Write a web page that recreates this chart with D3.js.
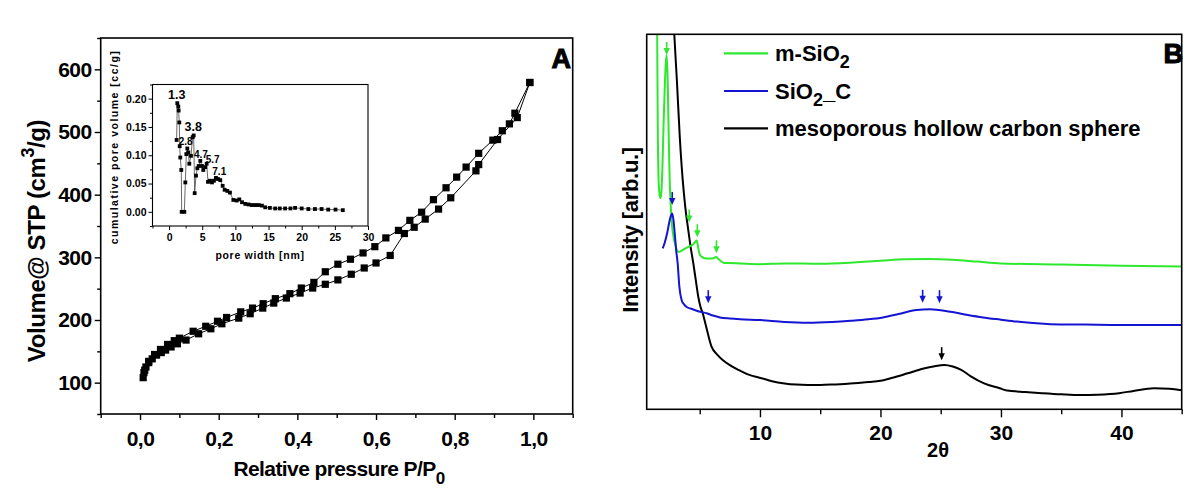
<!DOCTYPE html>
<html><head><meta charset="utf-8">
<script src="https://cdn.jsdelivr.net/npm/d3@7"></script>
<style>
body{margin:0;background:#fff}
text{font-family:"Liberation Sans",Arial,Helvetica,sans-serif;font-weight:bold;fill:#000}
</style></head><body>
<svg id="c" width="1200" height="499"></svg>
<script>
// ---------- Panel A: N2 isotherm ----------
const adsP=[0.008,0.010,0.015,0.022,0.031,0.042,0.054,0.065,0.079,0.095,0.117,0.149,0.180,0.208,0.251,0.280,0.312,0.340,0.372,0.407,0.439,0.471,0.503,0.537,0.570,0.600,0.636,0.672,0.697,0.725,0.759,0.790,0.854,0.861,0.909,0.959,0.991];
const adsV=[108,116,125,132,138,144,148,152,157,162,168,178,186,194,203,210,219,227,235,243,251,257,264,273,283,291,303,338,348,361,377,395,438,448,488,523,579];
const desP=[0.991,0.953,0.939,0.921,0.897,0.861,0.829,0.805,0.778,0.746,0.716,0.686,0.657,0.625,0.597,0.567,0.535,0.503,0.471,0.442,0.410,0.381,0.344,0.313,0.286,0.256,0.220,0.197,0.167,0.135,0.100,0.087,0.070,0.052,0.037,0.022,0.012];
const desV=[579,530,513,502,487,466,444,428,411,392,372,359,343,331,317,307,297,289,277,260,251,242,234,226,219,213,204,198,190,182,171,167,161,153,145,134,120];
const isoXTicks=[0,0.2,0.4,0.6,0.8,1.0];
const isoXMinor=[-0.1,0.1,0.3,0.5,0.7,0.9,1.1];
const isoYTicks=[100,200,300,400,500,600];
const isoYMinor=[50,150,250,350,450,550,650];

// ---------- Inset: pore size ----------
const psdX=[1.14,1.24,1.39,1.44,1.54,1.60,1.69,1.84,1.90,2.30,2.45,2.60,2.75,2.90,3.05,3.30,3.56,3.71,3.86,4.06,4.26,4.46,4.71,4.96,5.16,5.46,5.67,5.87,6.17,6.47,6.77,7.07,7.38,7.72,8.08,8.38,8.78,9.18,9.69,10.2,10.59,11.0,11.5,12.0,12.5,13.0,13.5,14.0,14.5,15.2,16.0,16.7,17.5,18.3,19.0,20.0,21.0,22.0,23.0,24.0,25.1,26.2];
const psdY=[0.127,0.192,0.186,0.179,0.158,0.116,0.096,0.074,0.0,0.0,0.052,0.102,0.112,0.105,0.085,0.099,0.132,0.135,0.033,0.064,0.077,0.081,0.090,0.081,0.074,0.079,0.085,0.053,0.055,0.052,0.055,0.060,0.058,0.056,0.046,0.039,0.037,0.034,0.021,0.020,0.022,0.017,0.014,0.013,0.012,0.012,0.012,0.011,0.008,0.007,0.006,0.006,0.006,0.006,0.007,0.006,0.005,0.005,0.005,0.004,0.004,0.003];
const psdLabelText=["1.3","3.8","2.8","4.7","5.7","7.1"];
const psdLabelX=[1.15,3.65,2.5,4.81,6.58,7.57];
const psdLabelY=[0.199,0.143,0.118,0.095,0.087,0.065];
const psdXTicks=[0,5,10,15,20,25,30];
const psdXMinor=[-2.5,2.5,7.5,12.5,17.5,22.5,27.5];
const psdYTicks=[0,0.05,0.10,0.15,0.20];
const psdYMinor=[-0.025,0.025,0.075,0.125,0.175,0.225];

// ---------- Panel B: XRD ----------
const seriesNames=["m-SiO2","SiO2_C","mesoporous hollow carbon sphere"];
const greenX=[1.40,1.47,1.52,1.58,1.66,1.74,1.82,1.90,2.00,2.10,2.18,2.26,2.34,2.42,2.50,2.57,2.70,2.85,3.00,3.22,3.45,3.64,3.85,4.05,4.25,4.45,4.62,4.75,4.87,5.00,5.20,5.58,5.90,6.15,6.35,6.55,6.96,7.50,8.34,10,12,15,18,20,22,24,26,28,30,35,40,45];
const greenY=[120,100,75,62,57.5,56.3,58,64,76,86,92,94.5,88,74,62,55.8,49,45.5,43.5,42,42.2,42.6,43,43.3,43.6,44,44.6,45,43.2,41.3,40.6,40.2,40.2,40.3,40.6,40.1,39.1,39,38.9,38.7,38.9,38.8,39.2,39.6,40,40.1,39.9,39.4,38.9,38.6,38.3,38.1];
const blueX=[1.93,2.10,2.30,2.45,2.60,2.72,2.82,2.95,3.06,3.17,3.31,3.50,3.70,3.92,4.30,4.75,5.20,5.58,6.10,6.68,7.50,8.34,10,12,14,16,17.5,19,20.2,21.5,23,24.1,25.8,27,28.5,30,31.3,34.1,37,40,45];
const blueY=[42.9,44.5,47,49.5,51.5,52.2,50.5,46,42,38.9,32.7,29.1,28,27.3,26.8,26.3,25.9,25.6,25,24.5,24.2,24,23.8,23.3,23.1,23.3,23.6,24,24.5,25.4,26.5,26.7,26,25.3,24.5,23.9,23.4,22.7,22.6,22.5,22.5];
const blackX=[2.75,2.89,3.10,3.36,3.59,3.80,4.05,4.25,4.47,4.68,4.88,5.05,5.25,5.50,5.98,6.45,6.93,7.50,8.22,9,10.13,11,12.04,13,13.96,15,16,17.5,19,20,21,22.26,23.5,24.5,25.3,26,26.7,27.5,28.6,29.9,30.5,32,33.4,35,36.6,38,39.8,41,42.7,44,45];
const blackY=[110,100,88,71.8,61.1,54,47.8,43.2,38.9,34.3,30,27.5,25.6,22.5,16.7,14.6,13.1,11.8,10.5,9.3,8.3,7.5,6.9,6.6,6.5,6.5,6.6,6.9,7.3,7.6,8.4,9.6,10.8,11.5,11.8,11.4,10.5,8.8,6.9,5.6,5,4.6,4.3,4.0,3.8,3.9,4.3,4.9,5.6,5.5,5.1];
const arrowX=[2.26,4.13,4.80,6.39,2.72,5.71,23.5,24.9,25.08];
const arrowY=[94.5,49.8,45.9,41.6,54.5,28.3,28.4,28.3,13.1];
const arrowSeries=[0,0,0,0,1,1,1,1,2];
const xrdXTicks=[10,20,30,40];
const xrdXMinor=[5,15,25,35,45];

const colors=["#2ee82e","#1414d2","#000000"];

const svg=d3.select("#c");

// ===== Panel A =====
const xA=d3.scaleLinear([-0.1,1.1],[100.7,572.7]);
const yA=d3.scaleLinear([50,650],[414,38]);
const gA=svg.append("g");
gA.append("rect").attr("x",xA(-0.1)).attr("y",yA(650)).attr("width",xA(1.1)-xA(-0.1)).attr("height",yA(50)-yA(650))
  .attr("fill","none").attr("stroke","#000").attr("stroke-width",1.6);

function styleAxis(g,fs){
  g.select(".domain").remove();
  g.selectAll("line").attr("stroke","#000").attr("stroke-width",1.4);
  g.selectAll("text").style("font-size",fs+"px").attr("fill","#000");
}
const axAB=gA.append("g").attr("transform",`translate(0,${yA(50)})`)
  .call(d3.axisBottom(xA).tickValues(isoXTicks).tickSize(6).tickPadding(11).tickFormat(d=>d3.format(".1f")(d).replace(".",",")));
styleAxis(axAB,21);
axAB.selectAll("text").style("letter-spacing","-0.5px");
const axABm=gA.append("g").attr("transform",`translate(0,${yA(50)})`)
  .call(d3.axisBottom(xA).tickValues(isoXMinor).tickSize(4).tickFormat(""));
styleAxis(axABm,10);
const axAL=gA.append("g").attr("transform",`translate(${xA(-0.1)},0)`)
  .call(d3.axisLeft(yA).tickValues(isoYTicks).tickSize(6).tickPadding(3).tickFormat(d3.format("d")));
styleAxis(axAL,21);
axAL.selectAll("text").style("letter-spacing","-0.5px");
const axALm=gA.append("g").attr("transform",`translate(${xA(-0.1)},0)`)
  .call(d3.axisLeft(yA).tickValues(isoYMinor).tickSize(3.5).tickFormat(""));
styleAxis(axALm,10);

const lineA=d3.line().x(d=>xA(d[0])).y(d=>yA(d[1]));
const ads=adsP.map((p,i)=>[p,adsV[i]]);
const des=desP.map((p,i)=>[p,desV[i]]);
[ads,des].forEach(data=>{
  gA.append("path").datum(data).attr("d",lineA).attr("fill","none").attr("stroke","#000").attr("stroke-width",1);
  gA.selectAll(null).data(data).enter().append("rect")
    .attr("x",d=>xA(d[0])-3.6).attr("y",d=>yA(d[1])-3.6).attr("width",7.2).attr("height",7.2).attr("fill","#000");
});

// axis titles A
const tA=gA.append("text").attr("x",339).attr("y",476).attr("text-anchor","middle").style("font-size","21px").style("letter-spacing","-0.6px");
tA.append("tspan").text("Relative pressure P/P");
tA.append("tspan").attr("dy",8).style("font-size","17px").text("0");
const yTA=gA.append("text").attr("transform","translate(45,241) rotate(-90)").attr("text-anchor","middle").style("font-size","24px").style("letter-spacing","-0.4px");
yTA.append("tspan").text("Volume@ STP (cm");
yTA.append("tspan").attr("dy",-11).style("font-size","18px").text("3");
yTA.append("tspan").attr("dy",11).text("/g)");
gA.append("text").attr("x",571).attr("y",68).attr("text-anchor","end").style("font-size","27px")
  .attr("stroke","#000").attr("stroke-width",1).text("A");

// ===== Inset =====
const xI=d3.scaleLinear([-2.5,30],[152.5,368]);
const yI=d3.scaleLinear([-0.025,0.225],[226,84.5]);
const gI=svg.append("g");
gI.append("rect").attr("x",xI(-2.5)).attr("y",yI(0.225)).attr("width",xI(30)-xI(-2.5)).attr("height",yI(-0.025)-yI(0.225))
  .attr("fill","#fff").attr("stroke","#000").attr("stroke-width",1.1);
const axIB=gI.append("g").attr("transform",`translate(0,${yI(-0.025)})`)
  .call(d3.axisBottom(xI).tickValues(psdXTicks).tickSize(4).tickPadding(4).tickFormat(d3.format("d")));
styleAxis(axIB,10.5); axIB.selectAll("line").attr("stroke-width",1);
const axIBm=gI.append("g").attr("transform",`translate(0,${yI(-0.025)})`)
  .call(d3.axisBottom(xI).tickValues(psdXMinor).tickSize(2.5).tickFormat(""));
styleAxis(axIBm,8); axIBm.selectAll("line").attr("stroke-width",1);
const axIL=gI.append("g").attr("transform",`translate(${xI(-2.5)},0)`)
  .call(d3.axisLeft(yI).tickValues(psdYTicks).tickSize(4).tickPadding(2).tickFormat(d3.format(".2f")));
styleAxis(axIL,10.5); axIL.selectAll("line").attr("stroke-width",1);
const axILm=gI.append("g").attr("transform",`translate(${xI(-2.5)},0)`)
  .call(d3.axisLeft(yI).tickValues(psdYMinor).tickSize(2.5).tickFormat(""));
styleAxis(axILm,8); axILm.selectAll("line").attr("stroke-width",1);

const psd=psdX.map((x,i)=>[x,psdY[i]]);
gI.append("path").datum(psd).attr("d",d3.line().x(d=>xI(d[0])).y(d=>yI(d[1])))
  .attr("fill","none").attr("stroke","#444").attr("stroke-width",0.8);
gI.selectAll(null).data(psd).enter().append("rect")
  .attr("x",d=>xI(d[0])-1.9).attr("y",d=>yI(d[1])-1.9).attr("width",3.8).attr("height",3.8).attr("fill","#000");
gI.selectAll(null).data(psdLabelText).enter().append("text")
  .attr("x",(d,i)=>xI(psdLabelX[i])).attr("y",(d,i)=>yI(psdLabelY[i])).attr("text-anchor","middle")
  .style("font-size",(d,i)=>i<2?"12.5px":"10px").text(d=>d);
gI.append("text").attr("transform","translate(118,147) rotate(-90)").attr("text-anchor","middle")
  .style("font-size","10.5px").style("letter-spacing","1.5px").text("cumulative pore volume [cc/g]");
gI.append("text").attr("x",260).attr("y",259).attr("text-anchor","middle")
  .style("font-size","10.5px").style("letter-spacing","0.7px").text("pore width [nm]");

// ===== Panel B =====
const xB=d3.scaleLinear([0.6,45],[646.7,1181.7]);
const yB=d3.scaleLinear([0,100],[409.3,34.3]);
const gB=svg.append("g");
svg.append("defs").append("clipPath").attr("id","clipB").append("rect")
  .attr("x",xB(0.6)).attr("y",yB(100)).attr("width",xB(45)-xB(0.6)).attr("height",yB(0)-yB(100));
const lineB=d3.line().x(d=>xB(d[0])).y(d=>yB(d[1])).curve(d3.curveMonotoneX);
const curves=[[greenX,greenY],[blueX,blueY],[blackX,blackY]];
const gC=gB.append("g").attr("clip-path","url(#clipB)");
[2,0,1].forEach(k=>{
  const data=curves[k][0].map((x,i)=>[x,curves[k][1][i]]);
  gC.append("path").datum(data).attr("d",lineB).attr("fill","none").attr("stroke",colors[k]).attr("stroke-width",2)
    .attr("stroke-linejoin","round");
});
// arrows
arrowX.forEach((ax,i)=>{
  const c=colors[arrowSeries[i]], tx=xB(ax), ty=yB(arrowY[i]);
  gB.append("line").attr("x1",tx).attr("x2",tx).attr("y1",ty-13).attr("y2",ty-5).attr("stroke",c).attr("stroke-width",1.6);
  gB.append("path").attr("d",`M${tx},${ty} L${tx-3.2},${ty-7} L${tx+3.2},${ty-7} Z`).attr("fill",c);
});
gB.append("rect").attr("x",xB(0.6)).attr("y",yB(100)).attr("width",xB(45)-xB(0.6)).attr("height",yB(0)-yB(100))
  .attr("fill","none").attr("stroke","#000").attr("stroke-width",1.6);
const axBB=gB.append("g").attr("transform",`translate(0,${yB(0)})`)
  .call(d3.axisBottom(xB).tickValues(xrdXTicks).tickSize(8).tickPadding(8).tickFormat(d3.format("d")));
styleAxis(axBB,21);
const axBBm=gB.append("g").attr("transform",`translate(0,${yB(0)})`)
  .call(d3.axisBottom(xB).tickValues(xrdXMinor).tickSize(5).tickFormat(""));
styleAxis(axBBm,10);
gB.append("text").attr("x",938).attr("y",457).attr("text-anchor","middle").style("font-size","20px").text("2θ");
gB.append("text").attr("transform","translate(638,230) rotate(-90)").attr("text-anchor","middle")
  .style("font-size","22px").style("letter-spacing","-0.3px").text("Intensity [arb.u.]");
gB.append("text").attr("x",1183).attr("y",63).attr("text-anchor","end").style("font-size","27px")
  .attr("stroke","#000").attr("stroke-width",1).text("B");

// legend
const legY=[53.3,91,128.3];
seriesNames.forEach((name,k)=>{
  gB.append("line").attr("x1",724).attr("x2",768).attr("y1",legY[k]).attr("y2",legY[k]).attr("stroke",colors[k]).attr("stroke-width",2.2);
  const t=gB.append("text").attr("x",775).attr("y",legY[k]+7.8).style("font-size","22px");
  const m=name.match(/^(.*SiO)2(.*)$/);
  if(m){
    t.append("tspan").text(m[1]);
    t.append("tspan").attr("dy",7).style("font-size","18px").text("2");
    if(m[2]){t.append("tspan").attr("dy",-7).text(m[2]);}
  } else t.text(name);
});
</script>
</body></html>
